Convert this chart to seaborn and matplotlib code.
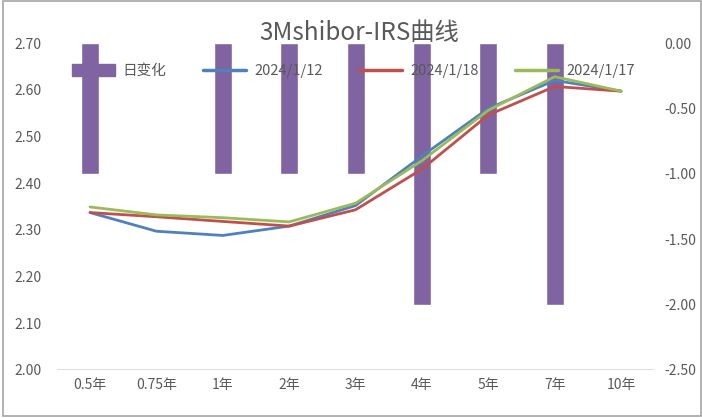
import numpy as np
import pandas as pd
import matplotlib
matplotlib.use("Agg")
import matplotlib.pyplot as plt
import seaborn as sns
from matplotlib.patches import Patch, Rectangle
from matplotlib.lines import Line2D

# --- dados ---
tenors = ["0.5年", "0.75年", "1年", "2年", "3年", "4年", "5年", "7年", "10年"]
chg = [-1.0, 0.0, -1.0, -1.0, -1.0, -2.0, -1.0, -2.0, 0.0]   # 日变化 (bp)
irs_0112 = [2.337, 2.297, 2.288, 2.308, 2.352, 2.458, 2.560, 2.620, 2.597]
irs_0118 = [2.337, 2.328, 2.318, 2.308, 2.343, 2.430, 2.546, 2.607, 2.597]
irs_0117 = [2.349, 2.332, 2.326, 2.317, 2.357, 2.448, 2.556, 2.628, 2.597]
series_names = ["2024/1/12", "2024/1/18", "2024/1/17"]
colors = {"2024/1/12": "#4F81BD", "2024/1/18": "#C0504D", "2024/1/17": "#9BBB59"}
bar_color = "#8064A2"
txt = "#595959"

sns.set_theme(style="white")
plt.rcParams["font.family"] = ["Noto Sans CJK SC", "DejaVu Sans"]

df_bar = pd.DataFrame({"tenor": tenors, "chg": chg})
pos = pd.Categorical(tenors, categories=tenors).codes
df_line = pd.concat([
    pd.DataFrame({"pos": pos, "rate": vals, "serie": name})
    for name, vals in zip(series_names, [irs_0112, irs_0118, irs_0117])
])

fig = plt.figure(figsize=(7.02, 4.18), dpi=100)
ax_bar = fig.add_axes([0.081, 0.115, 0.851, 0.782])
ax_line = ax_bar.twinx()

# barras (eixo direito)
sns.barplot(data=df_bar, x="tenor", y="chg", color=bar_color, width=0.27,
            saturation=1, ax=ax_bar, zorder=1)
ax_bar.set_ylim(-2.5, 0)
ax_bar.set_yticks(np.arange(-2.5, 0.01, 0.5))
ax_bar.set_yticklabels([f"{v:.2f}" for v in np.arange(-2.5, 0.01, 0.5)])
ax_bar.yaxis.tick_right()
ax_bar.set_xlim(-0.5, len(tenors) - 0.5)

# linhas (eixo esquerdo)
sns.lineplot(data=df_line, x="pos", y="rate", hue="serie", palette=colors,
             linewidth=2.0, ax=ax_line, legend=False, zorder=3)
ax_line.set_ylim(2.0, 2.7)
ax_line.set_yticks(np.arange(2.0, 2.71, 0.1))
ax_line.set_yticklabels([f"{v:.2f}" for v in np.arange(2.0, 2.71, 0.1)])
ax_line.yaxis.tick_left()
ax_line.set_xlim(-0.5, len(tenors) - 0.5)

for a in (ax_bar, ax_line):
    a.set_xlabel("")
    a.set_ylabel("")
    for s in a.spines.values():
        s.set_visible(False)
    a.tick_params(length=0, colors=txt, labelsize=10)
    a.grid(False)
ax_bar.tick_params(axis="y", pad=7)
ax_line.tick_params(axis="y", pad=11)
ax_bar.tick_params(axis="x", pad=6)
ax_bar.axhline(-2.5, color="#d9d9d9", lw=1.2, zorder=0)

fig.text(0.511, 0.921, "3Mshibor-IRS曲线", ha="center", va="center",
         fontsize=17.5, color=txt)

handles = [Patch(color=bar_color)] + [Line2D([], [], color=colors[n], lw=2.5) for n in series_names]
labels = ["日变化"] + series_names
leg = ax_line.legend(handles, labels, loc="center", bbox_to_anchor=(0.496, 0.914),
                     ncol=4, frameon=False, fontsize=10.5, handlelength=2.95,
                     handleheight=0.9, handletextpad=0.55, columnspacing=2.5,
                     labelcolor=txt)
leg.set_zorder(5)

fig.add_artist(Rectangle((0.004, 0.004), 0.995, 0.994, transform=fig.transFigure,
                         fill=False, edgecolor="#a6a6a6", lw=1.2))

fig.savefig("out.png", dpi=100)
